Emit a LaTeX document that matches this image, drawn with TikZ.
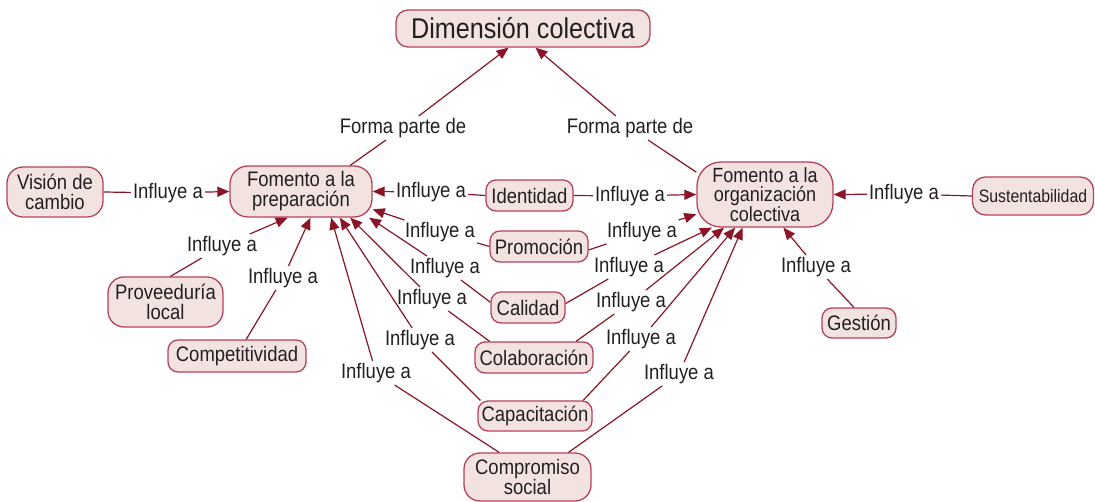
\documentclass[tikz,border=0pt]{standalone}
\usepackage{fontspec}
\setmainfont{Liberation Sans}[FakeStretch=0.88]
\usetikzlibrary{arrows.meta}
\definecolor{lnc}{HTML}{8A1526}
\definecolor{bdc}{HTML}{B5425C}
\definecolor{flc}{HTML}{F2E3E1}
\definecolor{txc}{HTML}{231F20}
\newcommand{\normsz}{\fontsize{21}{20}\selectfont}
\newcommand{\tightsz}{\fontsize{20.5}{19.5}\selectfont}
\newcommand{\titlesz}{\fontsize{28.6}{30}\selectfont}
\newcommand{\smallsz}{\fontsize{18}{19}\selectfont}
\tikzset{
  box/.style={draw=bdc, fill=flc, line width=1.3pt, text=txc, align=center, inner sep=0pt, font=\normsz},
  lbl/.style={text=txc, inner sep=2pt, font=\normsz},
  ln/.style={draw=lnc, line width=1.2pt},
  arr/.style={ln, -{Triangle[length=12pt,width=10pt]}}
}
\begin{document}
\begin{tikzpicture}[x=1pt,y=-1pt]
\useasboundingbox (0,0) rectangle (1095,502);
% concept boxes
\node[box, font=\titlesz, minimum width=254pt, minimum height=37pt, rounded corners=12pt] (dim) at (523,28.5) {Dimensión colectiva};
\node[box, minimum width=96pt, minimum height=50pt, rounded corners=16pt] (vis) at (55,192) {Visión de\\cambio};
\node[box, minimum width=142pt, minimum height=51pt, rounded corners=18pt] (prep) at (301,191.5) {Fomento a la\\preparación};
\node[box, minimum width=87pt, minimum height=31pt, rounded corners=10pt] (iden) at (529.5,195.5) {Identidad};
\node[box, font=\tightsz, minimum width=136pt, minimum height=65pt, rounded corners=24pt] (org) at (765,194.5) {Fomento a la\\organización\\colectiva};
\node[box, font=\smallsz, minimum width=121pt, minimum height=38pt, rounded corners=13pt] (sus) at (1033,196) {Sustentabilidad};
\node[box, minimum width=98pt, minimum height=31pt, rounded corners=10pt] (prom) at (539,246.5) {Promoción};
\node[box, minimum width=115pt, minimum height=50pt, rounded corners=16pt] (prov) at (165.5,302) {Proveeduría\\local};
\node[box, minimum width=74pt, minimum height=31pt, rounded corners=10pt] (cal) at (528,307.5) {Calidad};
\node[box, minimum width=74pt, minimum height=30pt, rounded corners=10pt] (ges) at (859,323) {Gestión};
\node[box, minimum width=138pt, minimum height=32pt, rounded corners=10pt] (compet) at (237,356) {Competitividad};
\node[box, minimum width=118pt, minimum height=31pt, rounded corners=10pt] (colab) at (534,357.5) {Colaboración};
\node[box, minimum width=114pt, minimum height=30pt, rounded corners=10pt] (capac) at (535,416) {Capacitación};
\node[box, minimum width=127pt, minimum height=48pt, rounded corners=16pt] (compro) at (527.5,477) {Compromiso\\social};
% linking phrases
\node[lbl] (Fl) at (403,128) {Forma parte de};
\node[lbl] (Fr) at (630,128) {Forma parte de};
\node[lbl] (Lvis) at (168,193) {Influye a};
\node[lbl] (Lprov) at (222,246) {Influye a};
\node[lbl] (Lcompet) at (283,278) {Influye a};
\node[lbl] (Lidp) at (431,192) {Influye a};
\node[lbl] (Lido) at (630,196) {Influye a};
\node[lbl] (Lprp) at (440,232) {Influye a};
\node[lbl] (Lpro) at (642,232) {Influye a};
\node[lbl] (Lcalp) at (445,268) {Influye a};
\node[lbl] (Lcalo) at (629,267) {Influye a};
\node[lbl] (Lcolp) at (432,299) {Influye a};
\node[lbl] (Lcolo) at (631,302) {Influye a};
\node[lbl] (Lcapp) at (420,340) {Influye a};
\node[lbl] (Lcapo) at (641,339) {Influye a};
\node[lbl] (Lcomp) at (376,373) {Influye a};
\node[lbl] (Lcomo) at (679,374) {Influye a};
\node[lbl] (Lsus) at (904,194) {Influye a};
\node[lbl] (Lges) at (816,267) {Influye a};
% connectors
\draw[ln] (prep.28) -- (Fl); \draw[arr] (Fl) -- (dim.-127);
\draw[ln] (org.162) -- (Fr); \draw[arr] (Fr) -- (dim.-57);
\draw[ln] (vis.east) -- (Lvis); \draw[arr] (Lvis) -- (prep.west);
\draw[ln] (prov.79) -- (Lprov); \draw[arr] (Lprov) -- (prep.-117);
\draw[ln] (compet.61) -- (Lcompet); \draw[arr] (Lcompet) -- (prep.-70.6);
\draw[ln] (iden.west) -- (Lidp); \draw[arr] (Lidp) -- (prep.east);
\draw[ln] (iden.east) -- (Lido); \draw[arr] (Lido) -- (org.west);
\draw[ln] (prom.west) -- (Lprp); \draw[arr] (Lprp) -- (prep.-14.8);
\draw[ln] (prom.-4) -- (Lpro); \draw[arr] (Lpro) -- (org.-164);
\draw[ln] (cal.172) -- (Lcalp); \draw[arr] (Lcalp) -- (prep.-21.5);
\draw[ln] (cal.6) -- (Lcalo); \draw[arr] (Lcalo) -- (org.-148.5);
\draw[ln] (colab.160) -- (Lcolp); \draw[arr] (Lcolp) -- (prep.-28.5);
\draw[ln] (colab.21) -- (Lcolo); \draw[arr] (Lcolo) -- (org.-141);
\draw[ln] (capac.164) -- (Lcapp); \draw[arr] (Lcapp) -- (prep.-34.6);
\draw[ln] (capac.18) -- (Lcapo); \draw[arr] (Lcapo) -- (org.-132.7);
\draw[ln] (compro.139) -- (Lcomp); \draw[arr] (Lcomp) -- (prep.-41.3);
\draw[ln] (compro.31) -- (Lcomo); \draw[arr] (Lcomo) -- (org.-124);
\draw[ln] (sus.west) -- (Lsus); \draw[arr] (Lsus) -- (org.east);
\draw[ln] (ges.108) -- (Lges); \draw[arr] (Lges) -- (org.-61);
\end{tikzpicture}
\end{document}
